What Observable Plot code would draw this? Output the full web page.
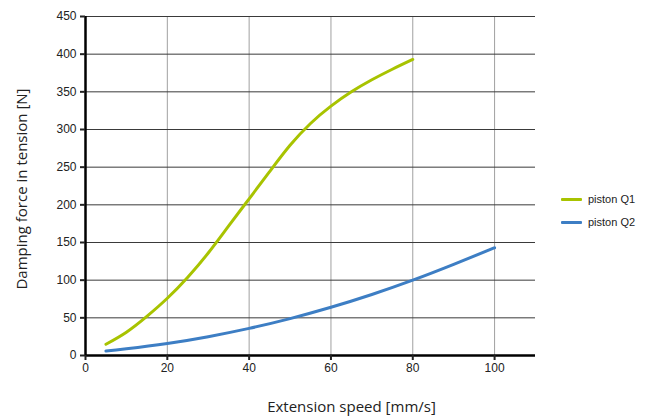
<!DOCTYPE html>
<html>
<head>
<meta charset="utf-8">
<script src="https://cdn.jsdelivr.net/npm/d3@7"></script>
<script src="https://cdn.jsdelivr.net/npm/@observablehq/plot@0.6"></script>
<style>
  html, body { margin: 0; padding: 0; background: #fff; }
  #wrap { position: relative; width: 651px; height: 416px; }
  #legend { position: absolute; left: 561px; top: 191px; font: 11px "Liberation Sans", Arial, sans-serif; color: #222; }
  .item { display: flex; align-items: center; height: 16px; margin-bottom: 7px; }
  .sw { width: 21px; height: 3px; margin-right: 6px; border-radius: 1px; }
</style>
</head>
<body>
<div id="wrap"><div id="legend"></div></div>
<script>
const seriesNames = ["piston Q1", "piston Q2"];
const seriesColors = ["#a8c300", "#3d7ec4"];

const q1Speed = [5, 10, 15, 20, 25, 30, 35, 40, 45, 50, 55, 60, 65, 70, 75, 80];
const q1Force = [15, 31, 52, 76, 104, 136, 172, 208, 244, 279, 308, 331, 350, 366, 380, 393];

const q2Speed = [5, 10, 20, 30, 40, 50, 60, 70, 80, 90, 100];
const q2Force = [6, 9, 16, 25, 36, 49, 64, 81, 100, 121, 143];

const xTicks = [0, 20, 40, 60, 80, 100];
const yTicks = [0, 50, 100, 150, 200, 250, 300, 350, 400, 450];

const xTitle = "Extension speed [mm/s]";
const yTitle = "Damping force in tension [N]";

const q1 = q1Speed.map((x, i) => ({x, y: q1Force[i]}));
const q2 = q2Speed.map((x, i) => ({x, y: q2Force[i]}));

const titleFont = "'Open Sans', Lato, sans-serif";

const chart = Plot.plot({
  width: 651,
  height: 416,
  marginLeft: 85,
  marginRight: 116,
  marginTop: 16,
  marginBottom: 61,
  style: {fontFamily: "'Liberation Sans', Arial, sans-serif", fontSize: "12px", color: "#222", background: "#fff"},
  x: {domain: [0, 110]},
  y: {domain: [0, 450]},
  marks: [
    Plot.gridX(xTicks.filter(d => d > 0), {stroke: "#a0a0a0", strokeOpacity: 1, strokeWidth: 1}),
    Plot.gridY(yTicks.filter(d => d > 0), {stroke: "#3a3a3a", strokeOpacity: 1, strokeWidth: 1}),
    Plot.line(q1, {x: "x", y: "y", curve: "natural", stroke: seriesColors[0], strokeWidth: 3}),
    Plot.line(q2, {x: "x", y: "y", curve: "natural", stroke: seriesColors[1], strokeWidth: 3}),
    Plot.ruleX([0], {stroke: "#000", strokeWidth: 2.5}),
    Plot.ruleY([0], {stroke: "#000", strokeWidth: 2.5}),
    Plot.axisX({ticks: xTicks, tickSize: 5, tickPadding: 3, strokeWidth: 2, label: null, fill: "#222"}),
    Plot.axisY({ticks: yTicks, tickSize: 5, tickPadding: 4, strokeWidth: 2, label: null, fill: "#222"}),
    Plot.text([xTitle], {frameAnchor: "bottom", text: d => d, dx: 41, dy: 52, textAnchor: "middle", lineAnchor: "middle", fontSize: 15, fontFamily: titleFont, fill: "#222"}),
    Plot.text([yTitle], {frameAnchor: "left", text: d => d, rotate: -90, dx: -63, dy: 3, textAnchor: "middle", lineAnchor: "middle", fontSize: 15, fontFamily: titleFont, fill: "#222"})
  ]
});
document.getElementById("wrap").prepend(chart);

const legend = document.getElementById("legend");
seriesNames.forEach((name, i) => {
  const item = document.createElement("div");
  item.className = "item";
  const sw = document.createElement("span");
  sw.className = "sw";
  sw.style.background = seriesColors[i];
  const t = document.createElement("span");
  t.textContent = name;
  item.append(sw, t);
  legend.append(item);
});
</script>
</body>
</html>
